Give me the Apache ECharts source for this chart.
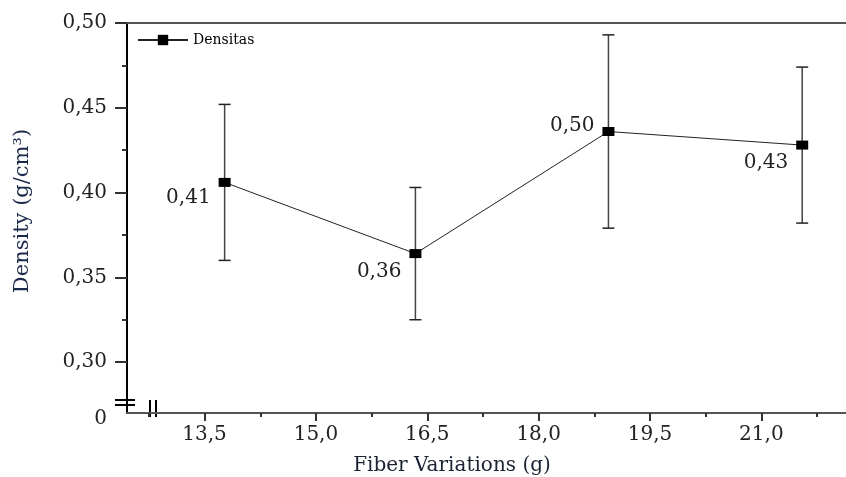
<!DOCTYPE html>
<html>
<head>
<meta charset="utf-8">
<style>
  html, body { margin: 0; padding: 0; background: #fff; }
  #main { width: 846px; height: 477px; }
</style>
<script src="https://cdn.jsdelivr.net/npm/echarts@6/dist/echarts.min.js"></script>
</head>
<body>
<div id="main"></div>
<script>
// data
const fiber = [13.77, 16.34, 18.94, 21.55];
const density = [0.406, 0.364, 0.436, 0.428];
const errLow = [0.360, 0.325, 0.379, 0.382];
const errHigh = [0.452, 0.403, 0.493, 0.474];
const pointLabels = ['0,41', '0,36', '0,50', '0,43'];

const xTicks = [13.5, 15.0, 16.5, 18.0, 19.5, 21.0];
const xMinorTicks = [12.75, 14.25, 15.75, 17.25, 18.75, 20.25, 21.75];
const yTicks = [0.30, 0.35, 0.40, 0.45, 0.50];
const yMinorTicks = [0.325, 0.375, 0.425, 0.475];

const xMin = 12.455, xMax = 22.14;
const yMin = 0.27, yMax = 0.50;

const serif = 'DejaVu Serif';
const labelDy = [15, 18, -6, 18]; // vertical nudge of each point label

var chart = echarts.init(document.getElementById('main'));

var lineData = fiber.map(function (x, i) {
  return {
    value: [x, density[i]],
    label: { offset: [0, labelDy[i]] }
  };
});
var errData = fiber.map(function (x, i) {
  return [x, errLow[i], errHigh[i]];
});

function fmtComma(v, d) {
  return v.toFixed(d).replace('.', ',');
}

var option = {
  animation: false,
  grid: { left: 127, right: 0, top: 23, bottom: 64 },
  legend: {
    left: 132,
    top: 28,
    itemWidth: 50,
    itemHeight: 13,
    itemGap: 4,
    textStyle: { fontFamily: serif, fontSize: 14, color: '#000' },
    data: ['Densitas']
  },
  xAxis: [{
    type: 'value',
    position: 'bottom',
    min: xMin,
    max: xMax,
    splitLine: { show: false },
    axisLine: { lineStyle: { color: '#555', width: 2 } },
    axisTick: { customValues: xTicks, length: 8, lineStyle: { color: '#333', width: 2 } },
    axisLabel: {
      customValues: xTicks,
      margin: 12,
      fontFamily: serif,
      fontSize: 20,
      color: '#222',
      formatter: function (v) { return fmtComma(v, 1); }
    }
  }, {
    // minor ticks
    type: 'value',
    position: 'bottom',
    min: xMin,
    max: xMax,
    splitLine: { show: false },
    axisLine: { show: false },
    axisTick: { customValues: xMinorTicks, length: 4, lineStyle: { color: '#333', width: 2 } },
    axisLabel: { show: false }
  }, {
    // top frame line
    type: 'value',
    position: 'top',
    min: xMin,
    max: xMax,
    splitLine: { show: false },
    axisLine: { lineStyle: { color: '#555', width: 2 } },
    axisTick: { show: false },
    axisLabel: { show: false }
  }],
  yAxis: [{
    type: 'value',
    position: 'left',
    min: yMin,
    max: yMax,
    splitLine: { show: false },
    axisLine: { lineStyle: { color: '#000', width: 2 } },
    axisTick: { customValues: yTicks, length: 12, lineStyle: { color: '#333', width: 2 } },
    axisLabel: {
      customValues: [yMin].concat(yTicks),
      margin: 20,
      fontFamily: serif,
      fontSize: 20,
      color: '#222',
      formatter: function (v) { return v < 0.28 ? '{z|0}' : fmtComma(v, 2); },
      rich: {
        z: { fontFamily: serif, fontSize: 20, color: '#222', padding: [12, 0, 0, 0] }
      }
    }
  }, {
    type: 'value',
    position: 'left',
    min: yMin,
    max: yMax,
    splitLine: { show: false },
    axisLine: { show: false },
    axisTick: { customValues: yMinorTicks, length: 5, lineStyle: { color: '#333', width: 2 } },
    axisLabel: { show: false }
  }],
  series: [{
    name: 'error',
    type: 'custom',
    xAxisIndex: 0,
    yAxisIndex: 0,
    z: 1,
    data: errData,
    renderItem: function (params, api) {
      var top = api.coord([api.value(0), api.value(2)]);
      var bot = api.coord([api.value(0), api.value(1)]);
      var w = 6;
      var st = { stroke: '#444', lineWidth: 1.5 };
      var cap = { stroke: '#222', lineWidth: 1.5 };
      return {
        type: 'group',
        children: [
          { type: 'line', shape: { x1: top[0], y1: top[1], x2: bot[0], y2: bot[1] }, style: st },
          { type: 'line', shape: { x1: top[0] - w, y1: top[1], x2: top[0] + w, y2: top[1] }, style: cap },
          { type: 'line', shape: { x1: bot[0] - w, y1: bot[1], x2: bot[0] + w, y2: bot[1] }, style: cap }
        ]
      };
    }
  }, {
    name: 'Densitas',
    type: 'line',
    xAxisIndex: 0,
    yAxisIndex: 0,
    z: 3,
    data: lineData,
    symbol: 'rect',
    symbolSize: [12, 9],
    itemStyle: { color: '#000' },
    lineStyle: { color: '#222', width: 1 },
    label: {
      show: true,
      position: 'left',
      distance: 8,
      fontFamily: serif,
      fontSize: 20,
      color: '#222',
      formatter: function (p) { return pointLabels[p.dataIndex]; }
    }
  }]
};

chart.setOption(option);

// axis-break marks and axis titles
var o = chart.convertToPixel({ xAxisIndex: 0, yAxisIndex: 0 }, [xMin, yMin]);
var brk = { stroke: '#000', lineWidth: 2 };
chart.setOption({
  graphic: [
    { type: 'line', shape: { x1: o[0] - 12, y1: o[1] - 13, x2: o[0] + 8, y2: o[1] - 13 }, style: brk },
    { type: 'line', shape: { x1: o[0] - 12, y1: o[1] - 8, x2: o[0] + 8, y2: o[1] - 8 }, style: brk },
    { type: 'line', shape: { x1: o[0] + 23, y1: o[1] - 13, x2: o[0] + 23, y2: o[1] + 4 }, style: brk },
    { type: 'line', shape: { x1: o[0] + 29, y1: o[1] - 13, x2: o[0] + 29, y2: o[1] + 4 }, style: brk },
    {
      type: 'text',
      x: 452, y: 466,
      style: {
        text: 'Fiber Variations (g)',
        font: '20px "DejaVu Serif"',
        fill: '#1b2233',
        align: 'center',
        verticalAlign: 'middle'
      }
    },
    {
      type: 'text',
      x: 23, y: 211,
      rotation: Math.PI / 2,
      style: {
        text: 'Density (g/cm³)',
        font: '21px "DejaVu Serif"',
        fill: '#1b2a4a',
        align: 'center',
        verticalAlign: 'middle'
      }
    }
  ]
});
</script>
</body>
</html>
